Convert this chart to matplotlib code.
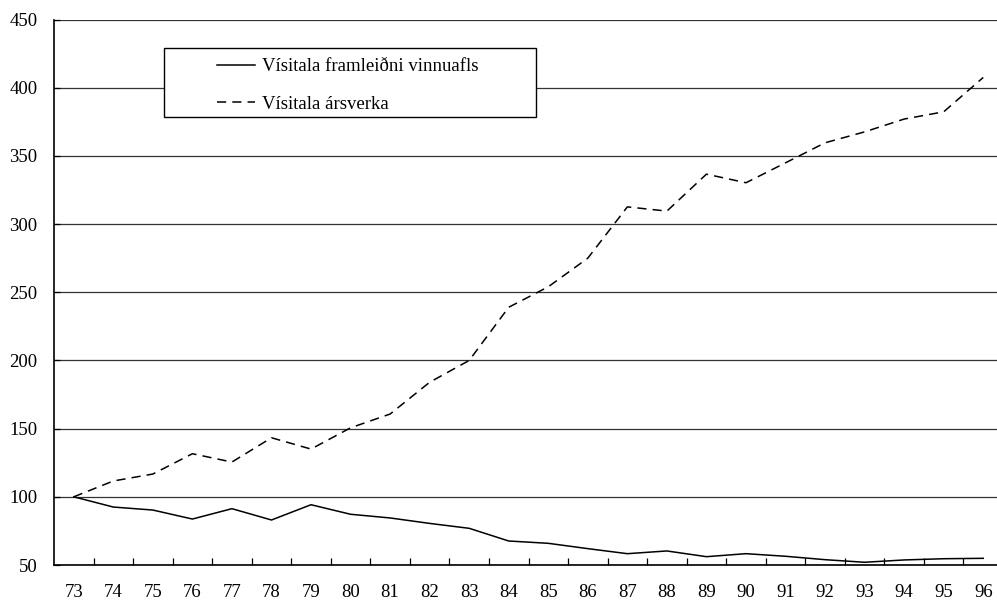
import matplotlib
matplotlib.use('Agg')
import matplotlib.pyplot as plt
from matplotlib.patches import Rectangle
from matplotlib.ticker import FixedLocator

plt.rcParams['font.family'] = ['Liberation Serif', 'DejaVu Serif']

years = ['73', '74', '75', '76', '77', '78', '79', '80', '81', '82', '83', '84',
         '85', '86', '87', '88', '89', '90', '91', '92', '93', '94', '95', '96']
framleidni = [100, 92.5, 90.3, 83.7, 91.3, 83.0, 94.2, 87.2, 84.5, 80.5, 76.9, 67.6,
              65.9, 62.0, 58.3, 60.3, 56.1, 58.3, 56.4, 53.9, 52.0, 53.7, 54.6, 54.9]
arsverk = [100, 111.6, 116.7, 131.6, 125.5, 143.3, 135.0, 150.6, 160.7, 184.0, 200.0, 239.0,
           254.0, 275.0, 312.6, 309.5, 336.6, 330.3, 344.9, 359.6, 367.6, 377.0, 382.3, 407.5]
labels = ['Vísitala framleiðni vinnuafls', 'Vísitala ársverka']
yticks = [50, 100, 150, 200, 250, 300, 350, 400, 450]

W, H = 997, 601
fig = plt.figure(figsize=(W / 100, H / 100), dpi=100)
ax = fig.add_axes([54 / W, (H - 565) / H, (1003 - 54) / W, (565 - 19.5) / H])

x = list(range(len(years)))
ax.plot(x, framleidni, color='black', lw=1.1, label=labels[0])
ax.plot(x, arsverk, color='black', lw=1.1, dashes=(6, 4), label=labels[1])

ax.set_xlim(-0.5, len(years) - 0.5)
ax.set_ylim(50, 450)
ax.set_yticks(yticks)
ax.set_yticklabels([str(v) for v in yticks])
ax.set_xticks(x)
ax.set_xticklabels(years)
ax.xaxis.set_minor_locator(FixedLocator([i + 0.5 for i in range(len(years) - 1)]))

ax.yaxis.grid(True, color='#333333', lw=0.9)
ax.set_axisbelow(True)
for s in ['top', 'right']:
    ax.spines[s].set_visible(False)
ax.spines['left'].set_linewidth(1.2)
ax.spines['bottom'].set_linewidth(1.2)

ax.tick_params(axis='x', which='major', length=0, pad=14, labelsize=13.5)
ax.tick_params(axis='x', which='minor', direction='in', length=5, width=0.9)
ax.tick_params(axis='y', direction='in', length=4, width=0.9, pad=12, labelsize=13.5)

# legend box
box = Rectangle((164 / W, (H - 117) / H), (536 - 164) / W, (117 - 48) / H,
                transform=fig.transFigure, facecolor='white', edgecolor='black',
                lw=1.0, zorder=3, clip_on=False)
fig.patches.append(box)
leg = fig.legend(loc='upper left', bbox_to_anchor=(217 / W, (H - 58) / H),
                 frameon=False, fontsize=13.5, handlelength=2.0, handletextpad=0.4,
                 labelspacing=1.1, borderpad=0, borderaxespad=0)
leg.set_zorder(4)

fig.savefig('out.png', dpi=100)
